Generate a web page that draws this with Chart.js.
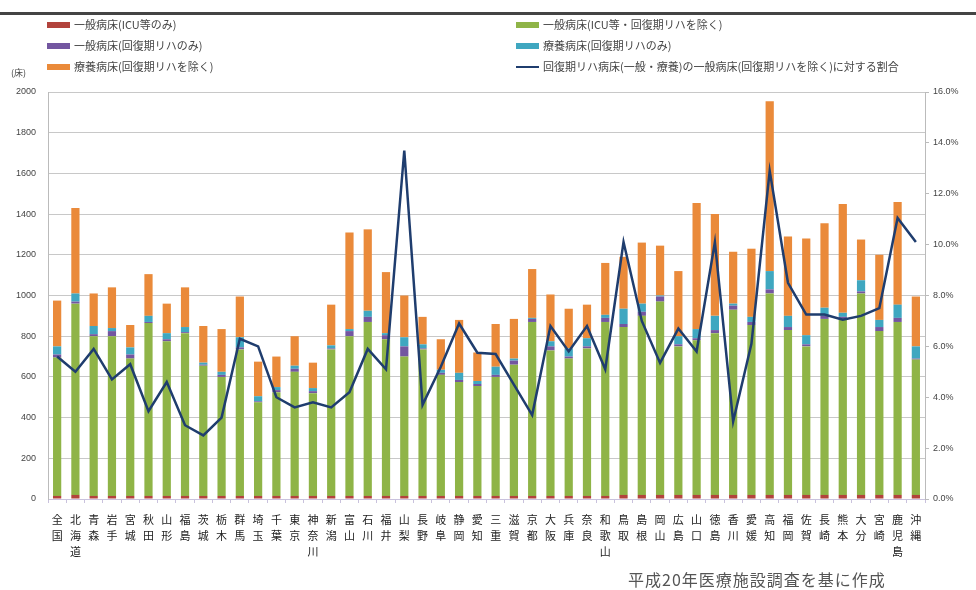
<!DOCTYPE html>
<html>
<head>
<meta charset="utf-8">
<script src="https://cdn.jsdelivr.net/npm/chart.js@4/dist/chart.umd.min.js"></script>
<style>
  body { margin: 0; background: #fff; font-family: "Noto Sans CJK JP", sans-serif; }
  #wrap { position: relative; width: 976px; height: 590px; overflow: hidden; }
  #c { position: absolute; left: 0; top: 0; }
  .rule { position: absolute; left: 0; top: 12px; width: 976px; height: 3px; background: #444; }
  .lg { position: absolute; font-size: 11px; color: #444; white-space: nowrap; line-height: 14px; }
  .sw { display: inline-block; width: 23px; height: 6px; vertical-align: middle; margin-right: 4px; position: relative; top: -1px; }
  .ln { display: inline-block; width: 23px; height: 2px; vertical-align: middle; margin-right: 4px; position: relative; top: -1px; }
  .unit { position: absolute; left: 11px; top: 66px; font-size: 9px; color: #444; }
  .src { position: absolute; left: 628px; top: 567px; font-size: 16px; letter-spacing: 1px; color: #555; }
</style>
</head>
<body>
<div id="wrap">
  <canvas id="c" width="976" height="590"></canvas>
  <div class="rule"></div>
  <div id="legend"></div>
  <div class="unit">(床)</div>
  <div class="src">平成20年医療施設調査を基に作成</div>
</div>
<script>
const prefectures = ['全国','北海道','青森','岩手','宮城','秋田','山形','福島','茨城','栃木','群馬','埼玉','千葉','東京','神奈川','新潟',
  '富山','石川','福井','山梨','長野','岐阜','静岡','愛知','三重','滋賀','京都','大阪','兵庫','奈良','和歌山','鳥取',
  '島根','岡山','広島','山口','徳島','香川','愛媛','高知','福岡','佐賀','長崎','熊本','大分','宮崎','鹿児島','沖縄']

const icuOnly = [15,20,15,15,15,15,15,15,15,15,15,15,15,15,15,15,
  15,15,15,15,15,15,15,15,15,15,15,15,15,15,15,20,
  20,20,20,20,20,20,20,20,20,20,20,20,20,20,20,20]
const generalOther = [680,940,785,785,675,850,760,800,640,585,720,460,510,610,505,720,
  785,855,770,685,720,595,560,540,585,645,855,715,675,725,855,825,
  880,950,730,760,795,910,835,990,810,730,865,860,990,805,850,665]
const generalRehab = [15,10,10,25,20,5,10,5,5,10,10,5,10,15,10,5,
  25,25,20,50,5,10,10,10,10,20,15,20,10,10,20,15,
  20,25,10,10,15,20,15,20,15,10,15,15,10,20,20,5]
const longTermRehab = [40,40,40,15,35,30,30,25,10,15,50,25,15,15,15,15,
  10,30,10,45,20,15,35,15,40,10,5,25,40,40,15,75,
  40,5,40,45,70,10,25,90,55,45,40,20,55,35,65,60]
const longTermOther = [225,420,160,200,110,205,145,195,180,210,200,170,150,145,125,200,
  475,400,300,205,135,150,260,140,210,195,240,230,195,165,255,255,
  300,245,320,620,500,255,335,835,390,475,415,535,200,320,505,245]
const rehabRatio = [5.6,5.0,5.9,4.7,5.3,3.45,4.6,2.9,2.5,3.2,6.3,6.0,4.0,3.6,3.8,3.6,
  4.2,5.9,5.1,13.7,3.7,5.2,6.9,5.75,5.7,4.5,3.3,6.8,5.8,6.8,5.1,10.1,
  7.0,5.35,6.7,5.8,10.1,3.05,6.1,12.9,8.5,7.25,7.25,7.05,7.2,7.5,11.05,10.1]

const leftTicks = [0,200,400,600,800,1000,1200,1400,1600,1800,2000]
const rightTicks = [0,2,4,6,8,10,12,14,16]

const colors = {
  icu: '#b2433c', general: '#8fb447', genRehab: '#7356a0', ltRehab: '#3fa7c0', ltOther: '#ea8a3a', line: '#1f3d6e'
}

const legendItems = [
  { text: '一般病床(ICU等のみ)', color: colors.icu, x: 47, y: 17 },
  { text: '一般病床(回復期リハのみ)', color: colors.genRehab, x: 47, y: 38 },
  { text: '療養病床(回復期リハを除く)', color: colors.ltOther, x: 47, y: 59 },
  { text: '一般病床(ICU等・回復期リハを除く)', color: colors.general, x: 516, y: 17 },
  { text: '療養病床(回復期リハのみ)', color: colors.ltRehab, x: 516, y: 38 },
  { text: '回復期リハ病床(一般・療養)の一般病床(回復期リハを除く)に対する割合', color: colors.line, x: 516, y: 59, line: true }
]
const lg = document.getElementById('legend')
legendItems.forEach(it => {
  const d = document.createElement('div')
  d.className = 'lg'
  d.style.left = it.x + 'px'
  d.style.top = it.y + 'px'
  d.innerHTML = '<span class="' + (it.line ? 'ln' : 'sw') + '" style="background:' + it.color + '"></span>' + it.text
  lg.appendChild(d)
})

const barOpts = { stack: 'beds', yAxisID: 'y', barPercentage: 0.45, categoryPercentage: 1, order: 2 }

new Chart(document.getElementById('c').getContext('2d'), {
  data: {
    labels: prefectures.map(p => p.split('')),
    datasets: [
      Object.assign({ type: 'bar', label: '一般病床(ICU等のみ)', data: icuOnly, backgroundColor: colors.icu }, barOpts),
      Object.assign({ type: 'bar', label: '一般病床(ICU等・回復期リハを除く)', data: generalOther, backgroundColor: colors.general }, barOpts),
      Object.assign({ type: 'bar', label: '一般病床(回復期リハのみ)', data: generalRehab, backgroundColor: colors.genRehab }, barOpts),
      Object.assign({ type: 'bar', label: '療養病床(回復期リハのみ)', data: longTermRehab, backgroundColor: colors.ltRehab }, barOpts),
      Object.assign({ type: 'bar', label: '療養病床(回復期リハを除く)', data: longTermOther, backgroundColor: colors.ltOther }, barOpts),
      {
        type: 'line', label: '回復期リハ病床(一般・療養)の一般病床(回復期リハを除く)に対する割合',
        data: rehabRatio, yAxisID: 'y1', borderColor: colors.line, borderWidth: 2.5,
        pointRadius: 0, tension: 0, order: 1
      }
    ]
  },
  options: {
    responsive: false,
    animation: false,
    layout: { padding: { top: 92, left: 0, right: 0, bottom: 0 } },
    plugins: { legend: { display: false }, tooltip: { enabled: false } },
    scales: {
      x: {
        stacked: true,
        offset: true,
        grid: { display: true, drawOnChartArea: false, offset: true, tickLength: 4, color: '#c9c2dd' },
        border: { color: '#c9c2dd' },
        ticks: { color: '#222', font: { size: 11, family: '"Noto Sans CJK JP"', lineHeight: 1.45 }, maxRotation: 0, autoSkip: false, padding: 9 },
        afterFit: s => { s.height = 91 }
      },
      y: {
        stacked: true, min: 0, max: 2000,
        afterBuildTicks: s => { s.ticks = leftTicks.map(v => ({ value: v })) },
        grid: { color: '#c8c8c8', lineWidth: 1, drawTicks: false },
        border: { color: '#bbb' },
        ticks: { color: '#444', font: { size: 9, family: 'Liberation Sans' }, padding: 12, callback: v => String(v) },
        afterFit: s => { s.width = 48 }
      },
      y1: {
        position: 'right', min: 0, max: 16,
        afterBuildTicks: s => { s.ticks = rightTicks.map(v => ({ value: v })) },
        grid: { drawOnChartArea: false, tickLength: 4, color: '#bbb' },
        border: { color: '#bbb' },
        ticks: { color: '#444', font: { size: 9, family: 'Liberation Sans' }, padding: 4, callback: v => v.toFixed(1) + '%' },
        afterFit: s => { s.width = 51 }
      }
    }
  }
})
</script>
</body>
</html>
